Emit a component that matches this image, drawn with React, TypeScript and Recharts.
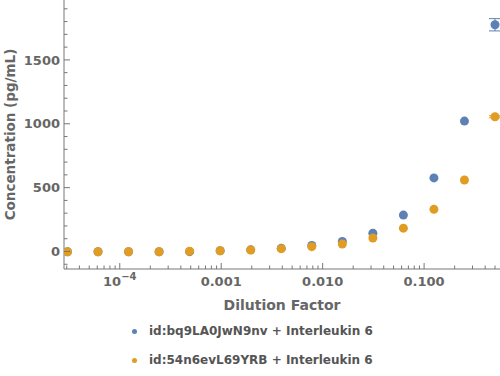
import React from "react";
import { ScatterChart, Scatter, XAxis, YAxis, ErrorBar } from "recharts";

const dilution = [
  0.5, 0.25, 0.125, 0.0625, 0.03125, 0.015625, 0.0078125, 0.00390625,
  0.001953125, 0.0009765625, 0.00048828125, 0.000244140625,
  0.0001220703125, 0.00006103515625, 0.000030517578125,
];
const blueValues = [1775, 1021, 576, 285, 143, 78, 47, 25, 13, 6, -1, -2, -2, -2, -2];
const blueErrors = [48, 0, 0, 0, 0, 0, 0, 0, 0, 0, 0, 0, 0, 0, 0];
const orangeValues = [1055, 560, 330, 183, 106, 59, 38, 22, 12, 6, 2, -2, -2, -2, -2];
const orangeErrors = [8, 0, 0, 0, 0, 0, 0, 0, 0, 0, 0, 0, 0, 0, 0];

const seriesNames = [
  "id:bq9LA0JwN9nv + Interleukin 6",
  "id:54n6evL69YRB + Interleukin 6",
];
const colors = ["#5E81B5", "#E19C24"];

const xMajorTicks = [0.0001, 0.001, 0.01, 0.1];
const xMajorLabels = ["10^-4", "0.001", "0.010", "0.100"];
const yMajorTicks = [0, 500, 1000, 1500];

const xDomain = [2.82e-5, 0.56];
const yDomain = [-137, 1969];

// minor ticks for the frame
const xTicks: number[] = [];
for (let e = -5; e <= -1; e++) {
  for (let m = 1; m <= 9; m++) {
    const v = m * Math.pow(10, e);
    if (v >= xDomain[0] && v <= xDomain[1]) xTicks.push(v);
  }
}
const yTicks: number[] = [];
for (let v = -100; v <= 1900; v += 100) yTicks.push(v);

const blueData = dilution.map((x, i) => ({ x, y: blueValues[i], err: blueErrors[i] }));
const orangeData = dilution.map((x, i) => ({ x, y: orangeValues[i], err: orangeErrors[i] }));

const axisColor = "#777";
const textColor = "#666";
const font = "'DejaVu Sans', sans-serif";

const isXMajor = (v: number) => xMajorTicks.some((t) => Math.abs(t - v) / t < 1e-6);

function XTick(props: any) {
  const { x, y, payload } = props;
  const v = payload.value;
  const idx = xMajorTicks.findIndex((t) => Math.abs(t - v) / t < 1e-6);
  const major = idx >= 0;
  const label = major ? xMajorLabels[idx] : null;
  return (
    <g>
      <line x1={x} x2={x} y1={y} y2={y - (major ? 6 : 3.5)} stroke={axisColor} />
      {label && label.startsWith("10^") ? (
        <text x={x} y={y + 17} textAnchor="middle" fill={textColor} fontSize={13} fontWeight="bold" fontFamily={font}>
          10
          <tspan dy={-6} fontSize={10}>{"\u2212" + label.slice(4)}</tspan>
        </text>
      ) : label ? (
        <text x={x} y={y + 17} textAnchor="middle" fill={textColor} fontSize={13} fontWeight="bold" fontFamily={font}>
          {label}
        </text>
      ) : null}
    </g>
  );
}

function YTick(props: any) {
  const { x, y, payload } = props;
  const v = payload.value;
  const major = yMajorTicks.includes(v);
  return (
    <g>
      <line x1={x} x2={x + (major ? 6 : 3.5)} y1={y} y2={y} stroke={axisColor} />
      {major && (
        <text x={x - 4} y={y + 4.7} textAnchor="end" fill={textColor} fontSize={13} fontWeight="bold" fontFamily={font}>
          {v}
        </text>
      )}
    </g>
  );
}

const dot = (color: string) => (props: any) =>
  <circle cx={props.cx} cy={props.cy} r={4.5} fill={color} />;

export default function App() {
  return (
    <div style={{ position: "absolute", left: 0, top: 0, width: 500, height: 376, background: "#fff" }}>
      <ScatterChart width={500} height={376} margin={{ top: 0, right: 0, bottom: 0, left: 0 }}>
        <XAxis
          type="number"
          dataKey="x"
          scale="log"
          domain={xDomain}
          allowDataOverflow
          ticks={xTicks}
          interval={0}
          tick={<XTick />}
          tickLine={false}
          tickSize={0}
          tickMargin={0}
          height={107}
          stroke={axisColor}
          label={{
            content: (p: any) => {
              const vb = p.viewBox;
              return (
                <text x={vb.x + vb.width / 2} y={vb.y + 41} textAnchor="middle" fill={textColor} fontSize={14} fontWeight="bold" fontFamily={font}>
                  Dilution Factor
                </text>
              );
            },
          }}
        />
        <YAxis
          type="number"
          dataKey="y"
          domain={yDomain}
          allowDataOverflow
          ticks={yTicks}
          interval={0}
          tick={<YTick />}
          tickLine={false}
          tickSize={0}
          tickMargin={0}
          width={64}
          stroke={axisColor}
          label={{
            content: (p: any) => {
              const vb = p.viewBox;
              const cx = vb.x + 15;
              const cy = vb.y + vb.height / 2;
              return (
                <text x={cx} y={cy} textAnchor="middle" transform={`rotate(-90, ${cx}, ${cy})`} fill={textColor} fontSize={13.5} fontWeight="bold" fontFamily={font}>
                  Concentration (pg/mL)
                </text>
              );
            },
          }}
        />
        <Scatter data={blueData} fill={colors[0]} shape={dot(colors[0])} isAnimationActive={false}>
          <ErrorBar dataKey="err" direction="y" width={6} stroke={colors[0]} strokeWidth={1} />
        </Scatter>
        <Scatter data={orangeData} fill={colors[1]} shape={dot(colors[1])} isAnimationActive={false}>
          <ErrorBar dataKey="err" direction="y" width={6} stroke={colors[1]} strokeWidth={1} />
        </Scatter>
      </ScatterChart>
      {seriesNames.map((name, i) => (
        <div
          key={name}
          style={{
            position: "absolute",
            left: 132,
            top: 322 + i * 29,
            height: 18,
            display: "flex",
            alignItems: "center",
            fontFamily: font,
            fontSize: 12,
            fontWeight: "bold",
            color: "#555",
            whiteSpace: "nowrap",
          }}
        >
          <span style={{ display: "inline-block", width: 5, height: 5, borderRadius: "50%", background: colors[i], marginRight: 12 }} />
          {name}
        </div>
      ))}
    </div>
  );
}
